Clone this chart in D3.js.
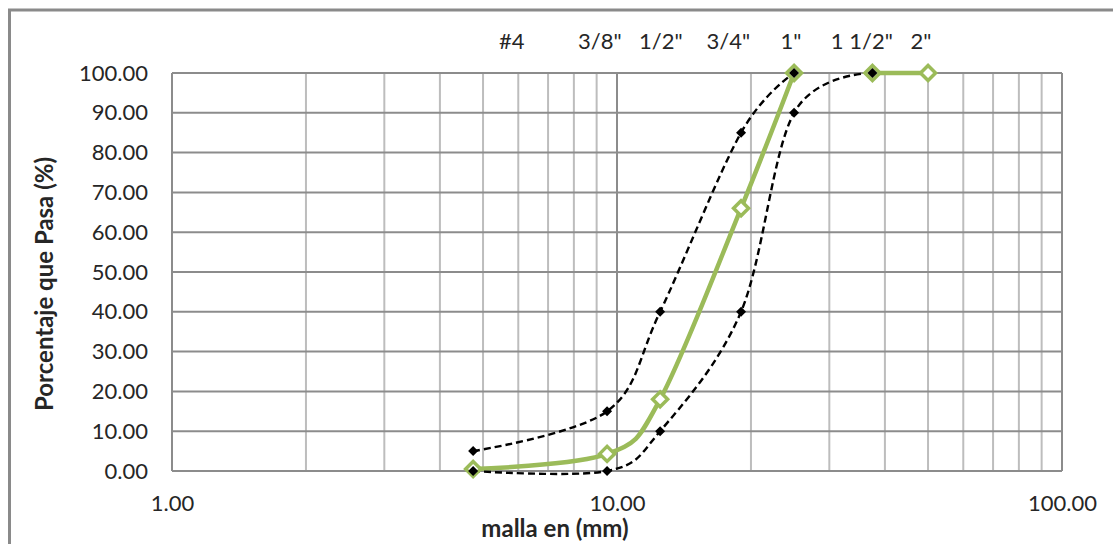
<!DOCTYPE html>
<html>
<head>
<meta charset="utf-8">
<script src="https://cdn.jsdelivr.net/npm/d3@7"></script>
<style>
  html, body { margin: 0; padding: 0; background: #ffffff; }
  svg { display: block; }
  text { font-family: Lato, "Open Sans", sans-serif; fill: #262626; }
</style>
</head>
<body>
<svg id="chart" width="1113" height="544"></svg>
<script>
// ---- data ----
const sieveMM      = [4.75, 9.5, 12.5, 19, 25, 37.5, 50];
const sieveNames   = ["#4", "3/8\"", "1/2\"", "3/4\"", "1\"", "1 1/2\"", "2\""];
const sieveLabelMM = [5.8, 9.15, 12.55, 17.8, 24.6, 35.5, 48.2];   // where the top labels sit
const gradation    = [0.5, 4.3, 18, 66, 100, 100, 100];            // green curve
const gradSegments = [[0, 4], [5, 6]];                              // index ranges drawn as lines
const upperMM      = [4.75, 9.5, 12.5, 19, 25];
const upperLimit   = [5, 15, 40, 85, 100];
const lowerMM      = [4.75, 9.5, 12.5, 19, 25, 37.5];
const lowerLimit   = [0, 0, 10, 40, 90, 100];
const yTicks       = [0, 10, 20, 30, 40, 50, 60, 70, 80, 90, 100];
const xMajor       = [1, 10, 100];

// ---- layout ----
const svg = d3.select("#chart");
const L = 172, R = 1062, T = 73, B = 471;
const x = d3.scaleLog().domain([1, 100]).range([L, R]);
const y = d3.scaleLinear().domain([0, 100]).range([B, T]);

// outer chart border (cropped on right/bottom)
svg.append("rect").attr("x", 9.5).attr("y", 10).attr("width", 1120).attr("height", 560)
  .attr("fill", "none").attr("stroke", "#8a8a8a").attr("stroke-width", 3);

// minor vertical grid
const minor = [];
for (let d = 1; d < 100; d *= 10) for (let k = 2; k <= 9; k++) minor.push(d * k);
svg.append("g").selectAll("line").data(minor).join("line")
  .attr("x1", d => x(d)).attr("x2", d => x(d)).attr("y1", T).attr("y2", B)
  .attr("stroke", "#bdbdbd").attr("stroke-width", 2);
// major vertical grid
svg.append("g").selectAll("line").data(xMajor).join("line")
  .attr("x1", d => x(d)).attr("x2", d => x(d)).attr("y1", T).attr("y2", B)
  .attr("stroke", "#8c8c8c").attr("stroke-width", 2);
// horizontal grid
svg.append("g").selectAll("line").data(yTicks).join("line")
  .attr("x1", L).attr("x2", R).attr("y1", d => y(d)).attr("y2", d => y(d))
  .attr("stroke", "#8c8c8c").attr("stroke-width", 2);

// axes labels
const yAxis = d3.axisLeft(y).tickValues(yTicks).tickFormat(d3.format(".2f")).tickSize(0).tickPadding(24);
const gy = svg.append("g").attr("transform", `translate(${L},0)`).call(yAxis);
gy.select(".domain").remove();
gy.selectAll("text").attr("font-size", 22).attr("font-family", "Lato, sans-serif").attr("fill", "#262626");

const xAxis = d3.axisBottom(x).tickValues(xMajor).tickFormat(d3.format(".2f")).tickSize(0).tickPadding(24);
const gx = svg.append("g").attr("transform", `translate(0,${B})`).call(xAxis);
gx.select(".domain").remove();
gx.selectAll("text").attr("font-size", 22).attr("font-family", "Lato, sans-serif").attr("fill", "#262626");

// axis titles
svg.append("text").attr("transform", `translate(53,284) rotate(-90)`)
  .attr("text-anchor", "middle").attr("font-size", 24).attr("font-weight", "bold")
  .attr("fill", "#000").text("Porcentaje que Pasa (%)");
svg.append("text").attr("x", 555).attr("y", 537)
  .attr("text-anchor", "middle").attr("font-size", 24).attr("font-weight", "bold")
  .attr("fill", "#000").text("malla en (mm)");

// top sieve labels
svg.append("g").selectAll("text").data(sieveNames).join("text")
  .attr("x", (d, i) => x(sieveLabelMM[i])).attr("y", 49)
  .attr("text-anchor", "middle").attr("font-size", 22).attr("fill", "#262626")
  .text(d => d);

// curves
const curve = d3.curveCatmullRom.alpha(0);
const line = d3.line().x(d => x(d[0])).y(d => y(d[1])).curve(curve);

const gradPts = sieveMM.map((m, i) => [m, gradation[i]]);
gradSegments.forEach(([a, b]) => {
  svg.append("path").attr("d", line(gradPts.slice(a, b + 1)))
    .attr("fill", "none").attr("stroke", "#9bbb59").attr("stroke-width", 4.5)
    .attr("stroke-linejoin", "round");
});

const upperPts = upperMM.map((m, i) => [m, upperLimit[i]]);
const lowerPts = lowerMM.map((m, i) => [m, lowerLimit[i]]);
[upperPts, lowerPts].forEach(pts => {
  svg.append("path").attr("d", line(pts))
    .attr("fill", "none").attr("stroke", "#000").attr("stroke-width", 2.4)
    .attr("stroke-dasharray", "7,4");
});

// green hollow diamonds
const diamond = s => `M0,${-s}L${s},0L0,${s}L${-s},0Z`;
svg.append("g").selectAll("path").data(gradPts).join("path")
  .attr("transform", d => `translate(${x(d[0])},${y(d[1])})`)
  .attr("d", diamond(7.5)).attr("fill", "#fff").attr("stroke", "#9bbb59").attr("stroke-width", 3.5);

// black diamonds
svg.append("g").selectAll("path").data(upperPts.concat(lowerPts)).join("path")
  .attr("transform", d => `translate(${x(d[0])},${y(d[1])})`)
  .attr("d", diamond(5)).attr("fill", "#000");
</script>
</body>
</html>
